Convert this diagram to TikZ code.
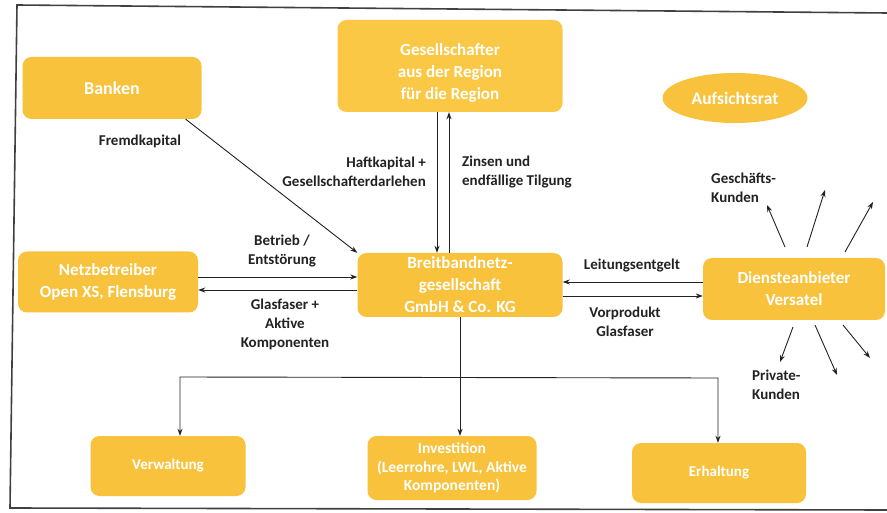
\documentclass[tikz,border=0pt]{standalone}
\usepackage{fontspec}
\setmainfont{Carlito}
\usetikzlibrary{arrows.meta,shapes.geometric}
\definecolor{boxfill}{HTML}{F8C23C}
\definecolor{topfill}{HTML}{FAC845}
\definecolor{inkc}{HTML}{222222}
\begin{document}
\begin{tikzpicture}[x=1pt,y=-1pt,
  box/.style={draw=none, fill=boxfill, rounded corners=9pt, text=white,
    font=\fontsize{17}{22}\selectfont\bfseries, align=center, inner sep=0pt},
  lbl/.style={font=\fontsize{15}{19}\selectfont\bfseries, text=inkc, align=center, inner sep=0pt},
  arr/.style={-{Stealth[length=7pt,width=5pt]}, line width=0.9pt, draw=inkc},
  arrboth/.style={{Stealth[length=7pt,width=5pt]}-{Stealth[length=7pt,width=5pt]}, line width=0.9pt, draw=inkc}]
\useasboundingbox (0,0) rectangle (887,513);
\fill[white] (0,0) rectangle (887,513);
% frame
\draw[line width=1.6pt, draw=black!75] (887,13) -- (17,5) -- (10,508) -- (887,510);

% nodes
\node[box, minimum width=179pt, minimum height=62pt, font=\fontsize{18}{22}\selectfont\bfseries] (bank) at (112,88) {Banken};
\node[box, fill=topfill, minimum width=225pt, minimum height=92pt] (ges) at (450,66)
  {\raisebox{-7pt}[\height][\depth]{\begin{tabular}{@{}c@{}}Gesellschafter\\aus der Region\\für die Region\end{tabular}}};
\node[ellipse, fill=boxfill, text=white, font=\fontsize{17.5}{21}\selectfont\bfseries, inner sep=0pt, minimum width=145pt, minimum height=50pt] (auf) at (735,98) {Aufsichtsrat};
\node[box, minimum width=180pt, minimum height=61pt] (netz) at (108,282) {Netzbetreiber\\Open XS, Flensburg};
\node[box, minimum width=205pt, minimum height=64pt] (bb) at (460,285) {Breitbandnetz-\\gesellschaft\\GmbH \& Co. KG};
\node[box, minimum width=182pt, minimum height=62pt] (dien) at (794,289) {Diensteanbieter\\Versatel};
\node[box, minimum width=155pt, minimum height=60pt, font=\fontsize{15}{19}\selectfont\bfseries] (verw) at (168,466) {Verwaltung};
\node[box, minimum width=169pt, minimum height=64pt, font=\fontsize{15.5}{18.5}\selectfont\bfseries] (inv) at (452,468) {Investition\\(Leerrohre, LWL, Aktive\\Komponenten)};
\node[box, minimum width=174pt, minimum height=60pt, font=\fontsize{15}{19}\selectfont\bfseries] (erh) at (719,473) {Erhaltung};

% labels
\node[lbl] (lfremd) at (140,141) {Fremdkapital};
\node[lbl, anchor=east, align=right] (lhaft) at (426,172) {Haftkapital +\\Gesellschafterdarlehen};
\node[lbl, anchor=west, align=left] (lzins) at (462,172) {Zinsen und\\endfällige Tilgung};
\node[lbl] (lbetr) at (282,251) {Betrieb /\\Entstörung};
\node[lbl] (lglas) at (285,324) {Glasfaser +\\Aktive\\Komponenten};
\node[lbl] (lleit) at (632,266) {Leitungsentgelt};
\node[lbl] (lvor) at (625,322) {Vorprodukt\\Glasfaser};
\node[lbl, anchor=west, align=left] (lgesch) at (711,188) {Geschäfts-\\Kunden};
\node[lbl, anchor=west, align=left] (lpriv) at (752,385) {Private-\\Kunden};

% connectors
\draw[arr] ([xshift=-16pt]bank.south east) -- (bb.north west);
\draw[arr] ([xshift=-13pt]ges.south) -- ([xshift=-13pt]ges.south |- bb.north);
\draw[arr] ([xshift=-1pt]ges.south |- bb.north) -- ([xshift=-1pt]ges.south);
\draw[arr] ([yshift=5pt]netz.east) -- ([yshift=5pt]netz.east -| bb.west);
\draw[arr] ([yshift=-8pt]netz.east -| bb.west) -- ([yshift=-8pt]netz.east);
\draw[arr] ([yshift=7pt]dien.west) -- ([yshift=7pt]dien.west -| bb.east);
\draw[arr] ([yshift=-7pt]dien.west -| bb.east) -- ([yshift=-7pt]dien.west);
\draw[arr] (bb.south) -- (bb.south |- inv.north);
\coordinate (hl) at (180,377);
\coordinate (hr) at (718,378);
\draw[arrboth] (hl |- verw.north) -- (hl) -- (hr) -- (hr |- erh.north);

% rays
\coordinate (r1s) at (785,247); \coordinate (r1e) at (767,205);
\coordinate (r2s) at (807,247); \coordinate (r2e) at (825,190);
\coordinate (r3s) at (845,252); \coordinate (r3e) at (873,202);
\coordinate (r4s) at (793,327); \coordinate (r4e) at (780,362);
\coordinate (r5s) at (815,325); \coordinate (r5e) at (837,375);
\coordinate (r6s) at (843,325); \coordinate (r6e) at (870,358);
\foreach \i in {1,...,6} \draw[arr] (r\i s) -- (r\i e);
\end{tikzpicture}
\end{document}
